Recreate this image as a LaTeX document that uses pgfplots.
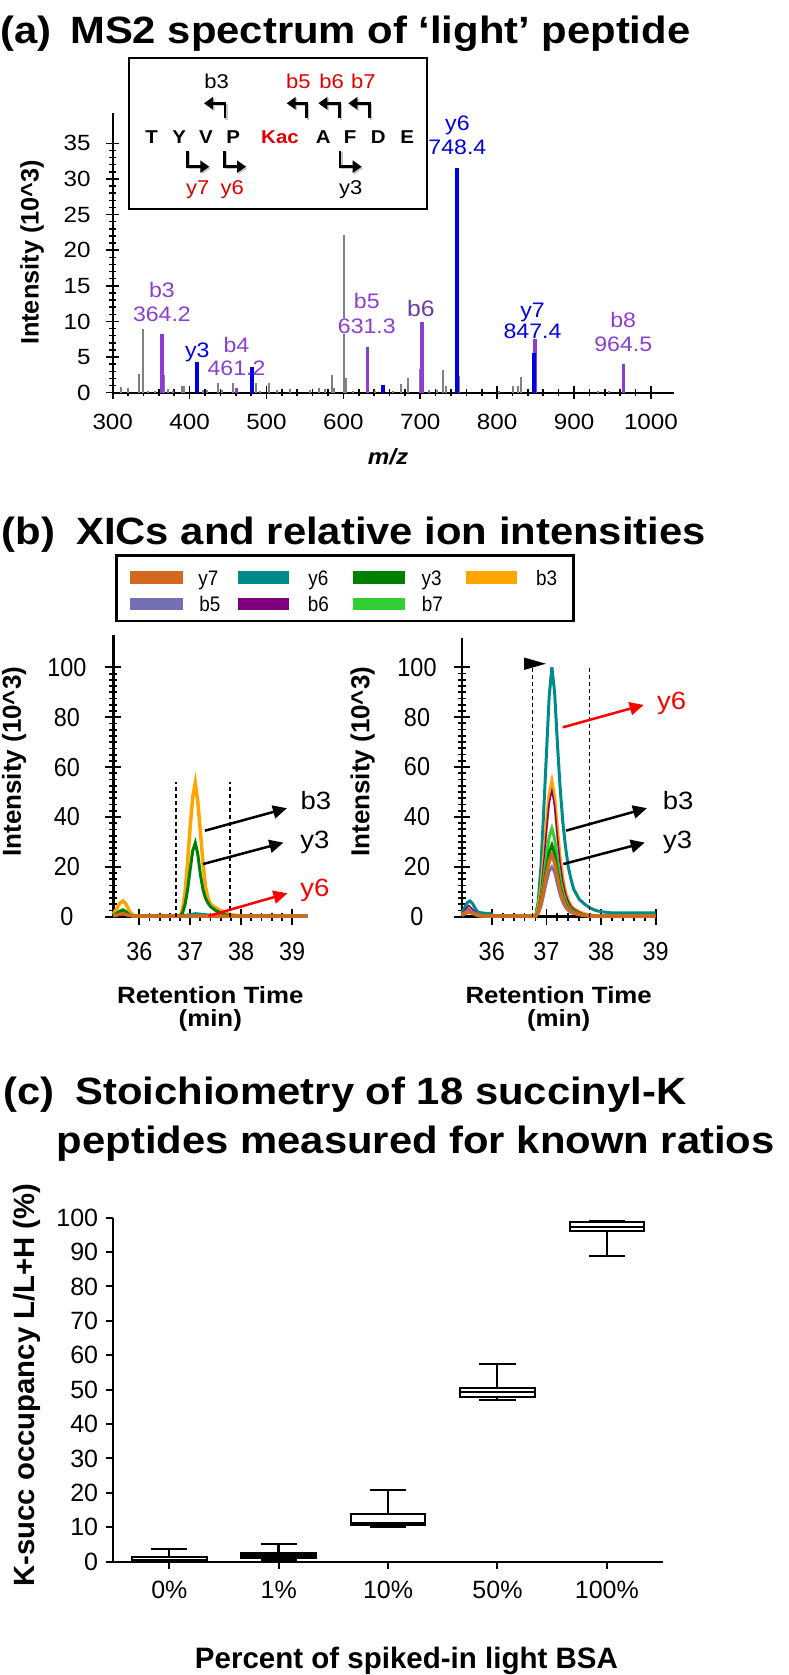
\documentclass[border=0pt]{standalone}
\usepackage{pgfplots}
\pgfplotsset{compat=1.18}
\usepgfplotslibrary{statistics}
\usetikzlibrary{arrows.meta}
\usepackage{fontspec}
\setmainfont{Liberation Sans}[FakeStretch=1.1]
\newfontfamily\nfont{Liberation Sans}
\newfontfamily\cfont{Liberation Sans}[FakeStretch=0.9]

\definecolor{pur}{RGB}{140,62,212}
\definecolor{purd}{RGB}{112,58,170}
\definecolor{blu}{RGB}{0,0,225}
\definecolor{gry}{RGB}{128,128,128}
\definecolor{seqred}{RGB}{225,0,0}
\definecolor{cy7}{RGB}{210,105,30}
\definecolor{cy6}{RGB}{0,139,139}
\definecolor{cy3}{RGB}{0,128,0}
\definecolor{cb3}{RGB}{255,165,0}
\definecolor{cb5}{RGB}{117,112,179}
\definecolor{cb6}{RGB}{128,0,128}
\definecolor{cb7}{RGB}{50,205,50}

\begin{document}
\begin{tikzpicture}

% ---------- titles ----------
\node[anchor=base west,inner sep=0pt,font=\bfseries\fontsize{38}{40}\selectfont] at (0pt,1631.7pt) {(a)\hspace{19pt}MS2 spectrum of ‘light’ peptide};
\node[anchor=base west,inner sep=0pt,font=\bfseries\fontsize{38}{40}\selectfont] at (1.7pt,1130pt) {(b)\hspace{21pt}XICs and relative ion intensities};
\node[anchor=base west,inner sep=0pt,font=\bfseries\fontsize{38}{40}\selectfont] at (3.3pt,570pt) {(c)\hspace{21pt}Stoichiometry of 18 succinyl-K};
\node[anchor=base west,inner sep=0pt,font=\bfseries\fontsize{38}{40}\selectfont] at (56.7pt,521.7pt) {peptides measured for known ratios};

% ---------- panel (a) ----------
\begin{axis}[
  at={(112.7pt,1282.3pt)}, anchor=south west, scale only axis,
  width=561.3pt, height=280pt,
  xmin=300, xmax=1030, ymin=0, ymax=39.3,
  axis x line=bottom, axis y line=left,
  axis line style={-, line width=2.2pt},
  xtick={300,400,...,1000}, minor x tick num=4,
  ytick={0,5,...,35}, minor y tick num=4,
  xticklabels={}, yticklabels={},
  tick align=center, major tick length=13pt, minor tick length=7pt,
  every tick/.style={black, line width=1.6pt},
  xlabel={m/z},
  xlabel style={font=\bfseries\itshape\fontsize{22}{22}\selectfont, inner sep=0pt, at={(axis description cs:0.4905,-0.258)}, anchor=base},
  ylabel={Intensity (10\textasciicircum 3)},
  ylabel style={font=\nfont\bfseries\fontsize{25.3}{26}\selectfont, inner sep=0pt, at={(axis description cs:-0.1438,0.5007)}, anchor=center},
  clip=false,
]
\addplot[ycomb, gry, line width=2pt] coordinates {
(310.8,0.76) (319.5,0.7) (333.8,2.6) (339,9.0) (346.3,0.3) (355,0.3)
(367.2,2.5) (372.4,0.5) (378,0.3) (389.8,1.0) (392.8,1.0) (418,0.4)
(422.3,0.4) (437.4,1.3) (441.8,0.4) (456.9,1.3) (486.4,1.3) (491.6,0.3)
(503.8,1.3) (513.4,0.4) (530.7,0.5) (556.7,0.4) (568.8,0.6) (576.2,0.5)
(584.9,2.5) (588.3,0.6) (601.4,22.2) (603.5,2.0) (613,0.3) (641,0.3)
(665,0.3) (674.7,1.2) (684.2,2.0) (699.4,3.3) (711.5,0.4) (722.4,0.4)
(730.1,3.2) (733.2,1.0) (750.6,2.3) (802.6,0.2) (820.8,0.95) (826.5,1.0)
(831.2,2.25) (931,0.2) (945.7,0.2)
};
\addplot[ycomb, pur, line width=3.5pt] coordinates {
(364.2,8.24) (461.2,0.6) (631.3,6.46) (702,9.97) (849.1,7.6) (964.5,4.0)
};
\addplot[ycomb, blu, line width=4pt] coordinates {
(409.2,4.35) (481.2,3.55) (651.3,1.08) (748.4,31.5) (847.4,5.5)
};
% tick labels
\pgfplotsinvokeforeach{0,5,10,15,20,25,30,35}{
  \node[anchor=east, inner sep=0pt, xshift=-22pt, font=\fontsize{22}{22}\selectfont] at (axis cs:300,#1) {#1};}
\pgfplotsinvokeforeach{300,400,500,600,700,800,900,1000}{
  \node[anchor=center, inner sep=0pt, yshift=-29.3pt, font=\fontsize{22}{22}\selectfont] at (axis cs:#1,0) {#1};}
% peak labels
\begin{scope}[every node/.style={inner sep=0pt, anchor=base, font=\fontsize{21}{21}\selectfont}]
\node[text=pur] at (axis cs:364,13.35) {b3};
\node[text=pur] at (axis cs:364,10.05) {364.2};
\node[text=blu] at (axis cs:410,5.0) {y3};
\node[text=pur] at (axis cs:461,5.65) {b4};
\node[text=pur] at (axis cs:461,2.35) {461.2};
\node[text=pur, fill=white, inner sep=1pt] at (axis cs:630.5,11.75) {b5};
\node[text=pur, fill=white, inner sep=1pt] at (axis cs:630.5,8.35) {631.3};
\node[text=purd, font=\fontsize{22.5}{22}\selectfont] at (axis cs:700.7,10.75) {b6};
\node[text=blu] at (axis cs:748.3,36.75) {y6};
\node[text=blu] at (axis cs:748.3,33.45) {748.4};
\node[text=blu] at (axis cs:846,10.55) {y7};
\node[text=blu] at (axis cs:846,7.55) {847.4};
\node[text=pur] at (axis cs:964,9.15) {b8};
\node[text=pur] at (axis cs:964,5.85) {964.5};
\end{scope}
\end{axis}

% inset sequence box for (a)
\draw[line width=2pt, fill=white] (129.3pt,1616.7pt) rectangle (427.3pt,1465.7pt);
\begin{scope}[every node/.style={inner sep=0pt, anchor=base}]
\foreach \x/\t in {151.7/T,179.3/Y,206/V,233.3/P,323.3/A,350/F,378.3/D,407.3/E}
  \node[font=\bfseries\fontsize{18.6}{19}\selectfont] at (\x pt,1531.6pt) {\t};
\node[font=\bfseries\fontsize{18.6}{19}\selectfont, text=seqred] at (280pt,1531.6pt) {Kac};
\node[font=\fontsize{20}{20}\selectfont] at (216.7pt,1586.7pt) {b3};
\node[font=\fontsize{20}{20}\selectfont, text=seqred] at (298.3pt,1586.7pt) {b5};
\node[font=\fontsize{20}{20}\selectfont, text=seqred] at (331.7pt,1586.7pt) {b6};
\node[font=\fontsize{20}{20}\selectfont, text=seqred] at (363.3pt,1586.7pt) {b7};
\node[font=\fontsize{20}{20}\selectfont, text=seqred] at (197.7pt,1480pt) {y7};
\node[font=\fontsize{20}{20}\selectfont, text=seqred] at (232.3pt,1480pt) {y6};
\node[font=\fontsize{20}{20}\selectfont] at (350.7pt,1480pt) {y3};
\end{scope}
\foreach \s/\t in {225/204,306.7/286.7,339.3/318.3,369.3/348.3}{
  \draw[gray!45, line width=2.5pt, -{Triangle[length=9pt,width=12pt]}] ({\s pt+1.5pt},1555.2pt) -- ({\s pt+1.5pt},1570.2pt) -- ({\t pt+1.5pt},1570.2pt);
  \draw[black, line width=2.5pt, -{Triangle[length=9pt,width=12pt]}] (\s pt,1556.7pt) -- (\s pt,1571.7pt) -- (\t pt,1571.7pt);
}
\foreach \s/\t in {187.7/209.3,224.3/246,340/361.7}{
  \draw[gray!45, line width=2.5pt, -{Triangle[length=9pt,width=12pt]}] ({\s pt+1.5pt},1522.8pt) -- ({\s pt+1.5pt},1506.8pt) -- ({\t pt+1.5pt},1506.8pt);
  \draw[black, line width=2.5pt, -{Triangle[length=9pt,width=12pt]}] (\s pt,1524.3pt) -- (\s pt,1508.3pt) -- (\t pt,1508.3pt);
}

% ---------- legend for (b) ----------
\draw[line width=2.5pt] (116.7pt,1119.3pt) rectangle (573.3pt,1054pt);
\foreach \xa/\xb/\yc/\c in {130/182.7/1097.3/cy7, 238.3/289.3/1097.3/cy6, 353.3/405/1097.3/cy3, 465.7/516.7/1097.3/cb3,
                           130/182.7/1070.7/cb5, 238.3/289.3/1070.7/cb6, 353.3/405/1070.7/cb7}
  \fill[\c] (\xa pt,{\yc pt-6.2pt}) rectangle (\xb pt,{\yc pt+6.2pt});
\begin{scope}[every node/.style={inner sep=0pt, anchor=base, font=\cfont\fontsize{21}{21}\selectfont}]
\node at (208.3pt,1089.8pt) {y7};
\node at (318.3pt,1089.8pt) {y6};
\node at (431.7pt,1089.8pt) {y3};
\node at (546.7pt,1089.8pt) {b3};
\node at (210pt,1063.2pt) {b5};
\node at (318.3pt,1063.2pt) {b6};
\node at (432.3pt,1063.2pt) {b7};
\end{scope}

% ---------- panel (b) left ----------
\begin{axis}[
  at={(113.3pt,758.3pt)}, anchor=south west, scale only axis,
  width=194pt, height=281.7pt,
  xmin=35.49, xmax=39.3, ymin=0, ymax=113,
  axis x line=bottom, axis y line=left,
  axis line style={-, line width=2.4pt},
  xtick={36,37,38,39}, minor x tick num=4,
  ytick={0,20,...,100}, minor y tick num=7,
  xticklabels={}, yticklabels={},
  tick align=center, major tick length=16pt, minor tick length=8pt,
  every tick/.style={black, line width=1.8pt},
  xlabel={Retention Time\\(min)},
  xlabel style={font=\bfseries\fontsize{23.5}{23}\selectfont, align=center, inner sep=0pt, at={(axis description cs:0.5,0)}, anchor=north, yshift=-70pt},
  ylabel={Intensity (10\textasciicircum 3)},
  ylabel style={font=\nfont\bfseries\fontsize{26}{26}\selectfont, inner sep=0pt, at={(axis description cs:-0.511,0.5502)}, anchor=center},
  clip=false,
]
% y6
\addplot[cy6, line width=3pt] coordinates {
(35.49,0.5) (35.6,1) (35.68,1.2) (35.8,0.6) (35.9,0.3) (36.8,0.3) (37.0,0.8) (37.1,1.2) (37.3,0.8) (37.5,0.4) (39.3,0.3)};
% b3
\addplot[cb3, line width=3.5pt] coordinates {
(35.49,1) (35.55,3) (35.62,5.5) (35.68,6.3) (35.74,5) (35.8,2.5) (35.86,0.8) (35.95,0.2) (36.8,0.2)
(36.85,3) (36.9,10) (36.95,22) (37.0,36) (37.05,48) (37.1,53.7) (37.15,46) (37.2,34) (37.25,22)
(37.3,12) (37.35,7.5) (37.4,5) (37.5,3.5) (37.6,2.4) (37.7,1.5) (37.8,0.8) (38,0.2) (39.3,0.2)};
% b6
\addplot[cb6, line width=1.5pt] coordinates {
(35.49,0.4) (35.6,1.2) (35.68,1.5) (35.8,0.6) (35.9,0.2) (39.3,0.2)};
% b7
\addplot[cb7, line width=3pt] coordinates {
(35.49,0.6) (35.6,2) (35.68,2.8) (35.76,1.6) (35.85,0.4) (35.95,0.2) (39.3,0.2)};
% y3
\addplot[cy3, line width=3pt] coordinates {
(35.49,0.5) (35.55,1.2) (35.62,2.2) (35.68,2.6) (35.74,2) (35.8,0.8) (35.9,0.2) (36.8,0.2)
(36.85,1.5) (36.9,5) (36.95,11) (37.0,19) (37.05,26.5) (37.1,29.6) (37.15,25) (37.2,17) (37.25,11)
(37.3,7.5) (37.35,5.5) (37.4,4) (37.5,2.5) (37.6,1.5) (37.7,0.8) (37.8,0.3) (38,0.2) (39.3,0.2)};
% b5
\addplot[cb5, line width=2.5pt] coordinates {
(35.49,0.4) (35.6,1) (35.68,1.3) (35.8,0.5) (35.9,0.2) (39.3,0.2)};
% y7
\addplot[cy7, line width=3.5pt] coordinates {
(35.49,0.3) (35.6,0.9) (35.68,1.2) (35.76,0.7) (35.9,0.2) (39.3,0.2)};
% tick labels
\pgfplotsinvokeforeach{0,20,40,60,80,100}{
  \node[anchor=center, inner sep=0pt, xshift=-46.3pt, font=\cfont\fontsize{26}{26}\selectfont] at (axis cs:35.49,#1) {#1};}
\pgfplotsinvokeforeach{36,37,38,39}{
  \node[anchor=center, inner sep=0pt, yshift=-35.3pt, font=\cfont\fontsize{26}{26}\selectfont] at (axis cs:#1,0) {#1};}
% window lines and annotations
\draw[black, line width=1.3pt, dash pattern=on 4pt off 3pt] (axis cs:36.72,0) -- (axis cs:36.72,54.1);
\draw[black, line width=1.3pt, dash pattern=on 4pt off 3pt] (axis cs:37.78,0) -- (axis cs:37.78,54.1);
\draw[black, line width=2.5pt, -{Triangle[length=14pt,width=13pt]}] (axis cs:37.29,34.5) -- (axis cs:38.9,43.5);
\draw[black, line width=2.5pt, -{Triangle[length=14pt,width=13pt]}] (axis cs:37.25,21.1) -- (axis cs:38.83,29.7);
\draw[red, line width=2.5pt, -{Triangle[length=14pt,width=13pt]}] (axis cs:37.36,0.3) -- (axis cs:38.91,9.4);
\node[inner sep=0pt, font=\fontsize{25}{25}\selectfont] at (axis cs:39.47,46.5) {b3};
\node[inner sep=0pt, font=\fontsize{25}{25}\selectfont] at (axis cs:39.45,29.7) {y3};
\node[inner sep=0pt, font=\fontsize{25}{25}\selectfont, text=red] at (axis cs:39.45,10.7) {y6};
\end{axis}

% ---------- panel (b) right ----------
\begin{axis}[
  at={(461.7pt,758.3pt)}, anchor=south west, scale only axis,
  width=194pt, height=278.4pt,
  xmin=35.45, xmax=39.0, ymin=0, ymax=111.6,
  axis x line=bottom, axis y line=left,
  axis line style={-, line width=2.4pt},
  xtick={36,37,38,39}, minor x tick num=4,
  ytick={0,20,...,100}, minor y tick num=7,
  xticklabels={}, yticklabels={},
  tick align=center, major tick length=16pt, minor tick length=8pt,
  every tick/.style={black, line width=1.8pt},
  xlabel={Retention Time\\(min)},
  xlabel style={font=\bfseries\fontsize{23.5}{23}\selectfont, align=center, inner sep=0pt, at={(axis description cs:0.5,0)}, anchor=north, yshift=-70pt},
  ylabel={Intensity (10\textasciicircum 3)},
  ylabel style={font=\nfont\bfseries\fontsize{26}{26}\selectfont, inner sep=0pt, at={(axis description cs:-0.511,0.5568)}, anchor=center},
  clip=false,
]
% y6
\addplot[cy6, line width=3pt] coordinates {
(35.45,1.5) (35.5,3.5) (35.55,5.6) (35.6,6.3) (35.65,5.2) (35.7,3.2) (35.75,1.8) (35.85,1.4) (35.97,1.3) (36.05,0.3) (36.8,0.3)
(36.85,6) (36.9,20) (36.95,42) (37.0,65) (37.05,88) (37.1,100) (37.15,90) (37.2,70) (37.25,52) (37.3,38)
(37.35,28) (37.4,20) (37.45,15) (37.5,11) (37.6,7) (37.7,5) (37.8,3.5) (37.9,2.5) (38.0,2) (38.2,1.5) (39.0,1.5)};
% b3
\addplot[cb3, line width=3.5pt] coordinates {
(35.45,0.8) (35.52,2) (35.58,3) (35.65,2) (35.75,0.6) (35.9,0.2) (36.8,0.2)
(36.85,3.2) (36.9,10.8) (36.95,22.7) (37.0,36.7) (37.05,48.6) (37.1,54) (37.15,47.5) (37.2,34.6) (37.25,23.2)
(37.3,15.1) (37.35,9.7) (37.4,6.5) (37.45,4.3) (37.5,3.2) (37.6,1.9) (37.7,1.1) (37.8,0.5) (38,0.2) (39,0.2)};
% b6
\addplot[cb6, line width=1.5pt] coordinates {
(35.45,1) (35.52,3) (35.58,4.5) (35.65,3) (35.75,0.8) (35.9,0.2) (36.8,0.2)
(36.85,3) (36.9,10.1) (36.95,21.2) (37.0,34.3) (37.05,45.5) (37.1,50.5) (37.15,44.4) (37.2,32.3) (37.25,21.7)
(37.3,14.1) (37.35,9.1) (37.4,6.1) (37.45,4) (37.5,3) (37.6,1.8) (37.7,1) (37.8,0.5) (38,0.2) (39,0.2)};
% b7
\addplot[cb7, line width=3pt] coordinates {
(35.45,0.6) (35.52,1.7) (35.58,2.5) (35.65,1.7) (35.75,0.5) (35.9,0.2) (36.8,0.2)
(36.85,2.1) (36.9,7.1) (36.95,14.9) (37.0,24.1) (37.05,31.9) (37.1,35.4) (37.15,31.2) (37.2,22.7) (37.25,15.2)
(37.3,9.9) (37.35,6.4) (37.4,4.2) (37.45,2.8) (37.5,2.1) (37.6,1.2) (37.7,0.7) (37.8,0.4) (38,0.2) (39,0.2)};
% y3
\addplot[cy3, line width=3pt] coordinates {
(35.45,0.5) (35.52,1.4) (35.58,2) (35.65,1.4) (35.75,0.4) (35.9,0.2) (36.8,0.2)
(36.85,1.7) (36.9,5.7) (36.95,12.1) (37.0,19.5) (37.05,25.8) (37.1,28.7) (37.15,25.3) (37.2,18.4) (37.25,12.3)
(37.3,8) (37.35,5.2) (37.4,3.4) (37.45,2.3) (37.5,1.7) (37.6,1) (37.7,0.6) (37.8,0.3) (38,0.2) (39,0.2)};
% b5
\addplot[cb5, line width=2.5pt] coordinates {
(35.45,0.7) (35.52,2) (35.58,3) (35.65,2) (35.75,0.6) (35.9,0.2) (36.8,0.2)
(36.85,1.2) (36.9,4) (36.95,8.4) (37.0,13.6) (37.05,18) (37.1,20) (37.15,17.6) (37.2,12.8) (37.25,8.6)
(37.3,5.6) (37.35,3.6) (37.4,2.4) (37.45,1.6) (37.5,1.2) (37.6,0.7) (37.7,0.4) (37.8,0.2) (39,0.2)};
% y7
\addplot[cy7, line width=3.5pt] coordinates {
(35.45,0.5) (35.52,1.4) (35.58,2) (35.65,1.4) (35.75,0.4) (35.9,0.2) (36.8,0.2)
(36.85,1.5) (36.9,4.9) (36.95,10.4) (37.0,16.8) (37.05,22.2) (37.1,24.7) (37.15,21.7) (37.2,15.8) (37.25,10.6)
(37.3,6.9) (37.35,4.4) (37.4,3) (37.45,2) (37.5,1.5) (37.6,0.9) (37.7,0.5) (37.8,0.2) (39,0.2)};
% tick labels
\pgfplotsinvokeforeach{0,20,40,60,80,100}{
  \node[anchor=center, inner sep=0pt, xshift=-44.7pt, font=\cfont\fontsize{26}{26}\selectfont] at (axis cs:35.45,#1) {#1};}
\pgfplotsinvokeforeach{36,37,38,39}{
  \node[anchor=center, inner sep=0pt, yshift=-35.3pt, font=\cfont\fontsize{26}{26}\selectfont] at (axis cs:#1,0) {#1};}
\draw[black, line width=1.3pt, dash pattern=on 4pt off 3pt] (axis cs:36.74,0) -- (axis cs:36.74,100.5);
\draw[black, line width=1.3pt, dash pattern=on 4pt off 3pt] (axis cs:37.79,0) -- (axis cs:37.79,100.5);
\fill[black] (axis cs:36.59,103.9) -- (axis cs:36.99,101.4) -- (axis cs:36.59,98.9) -- cycle;
\draw[red, line width=2.5pt, -{Triangle[length=14pt,width=13pt]}] (axis cs:37.30,75.9) -- (axis cs:38.78,84.9);
\draw[black, line width=2.5pt, -{Triangle[length=14pt,width=13pt]}] (axis cs:37.36,34.5) -- (axis cs:38.84,43.5);
\draw[black, line width=2.5pt, -{Triangle[length=14pt,width=13pt]}] (axis cs:37.31,21.1) -- (axis cs:38.8,29.7);
\node[inner sep=0pt, font=\fontsize{25}{25}\selectfont, text=red] at (axis cs:39.29,85.6) {y6};
\node[inner sep=0pt, font=\fontsize{25}{25}\selectfont] at (axis cs:39.41,46.5) {b3};
\node[inner sep=0pt, font=\fontsize{25}{25}\selectfont] at (axis cs:39.4,29.7) {y3};
\end{axis}

% ---------- panel (c) ----------
\begin{axis}[
  at={(113.3pt,113.3pt)}, anchor=south west, scale only axis,
  width=549.3pt, height=344pt,
  xmin=-0.513, xmax=4.51, ymin=0, ymax=100,
  axis x line=bottom, axis y line=left,
  axis line style={-, line width=2.2pt},
  xtick={0,1,2,3,4}, ytick={0,10,...,100},
  xticklabels={}, yticklabels={},
  tick align=outside, major tick length=7pt,
  every tick/.style={black, line width=2pt},
  boxplot/draw direction=y,
  xlabel={Percent of spiked-in light BSA},
  xlabel style={font=\nfont\bfseries\fontsize{29.5}{30}\selectfont, inner sep=0pt, at={(axis description cs:0.5336,-0.31)}, anchor=base},
  ylabel={K-succ occupancy L/L+H (\%)},
  ylabel style={font=\nfont\bfseries\fontsize{29.3}{30}\selectfont, inner sep=0pt, at={(axis description cs:-0.1577,0.5137)}, anchor=center},
  clip=false,
]
\addplot[black, line width=2pt, fill=white, boxplot prepared={draw position=0, lower whisker=0, lower quartile=0.3, median=0.35, upper quartile=1.4, upper whisker=3.7, box extend=0.68, whisker extend=0.33}] coordinates {};
\addplot[black, line width=2.6pt, fill=white, boxplot prepared={draw position=1, lower whisker=0.6, lower quartile=1.2, median=1.9, upper quartile=2.3, upper whisker=5.1, box extend=0.68, whisker extend=0.33}] coordinates {};
\addplot[black, line width=2pt, fill=white, boxplot prepared={draw position=2, lower whisker=10.0, lower quartile=10.7, median=11.3, upper quartile=13.9, upper whisker=20.8, box extend=0.68, whisker extend=0.33}] coordinates {};
\addplot[black, line width=2pt, fill=white, boxplot prepared={draw position=3, lower whisker=47.0, lower quartile=48.0, median=49.4, upper quartile=50.6, upper whisker=57.5, box extend=0.68, whisker extend=0.33}] coordinates {};
\addplot[black, line width=2pt, fill=white, boxplot prepared={draw position=4, lower whisker=89.0, lower quartile=96.1, median=97.4, upper quartile=98.8, upper whisker=99.1, box extend=0.68, whisker extend=0.33}] coordinates {};
\pgfplotsinvokeforeach{0,10,20,30,40,50,60,70,80,90,100}{
  \node[anchor=east, inner sep=0pt, xshift=-15pt, font=\nfont\fontsize{25}{25}\selectfont] at (axis cs:-0.513,#1) {#1};}
\node[anchor=center, inner sep=0pt, yshift=-28.3pt, font=\nfont\fontsize{25}{25}\selectfont] at (axis cs:0,0) {0\%};
\node[anchor=center, inner sep=0pt, yshift=-28.3pt, font=\nfont\fontsize{25}{25}\selectfont] at (axis cs:1,0) {1\%};
\node[anchor=center, inner sep=0pt, yshift=-28.3pt, font=\nfont\fontsize{25}{25}\selectfont] at (axis cs:2,0) {10\%};
\node[anchor=center, inner sep=0pt, yshift=-28.3pt, font=\nfont\fontsize{25}{25}\selectfont] at (axis cs:3,0) {50\%};
\node[anchor=center, inner sep=0pt, yshift=-28.3pt, font=\nfont\fontsize{25}{25}\selectfont] at (axis cs:4,0) {100\%};
\end{axis}

\pgfresetboundingbox
\path[use as bounding box] (0pt,0pt) rectangle (789pt,1675pt);
\end{tikzpicture}
\end{document}
